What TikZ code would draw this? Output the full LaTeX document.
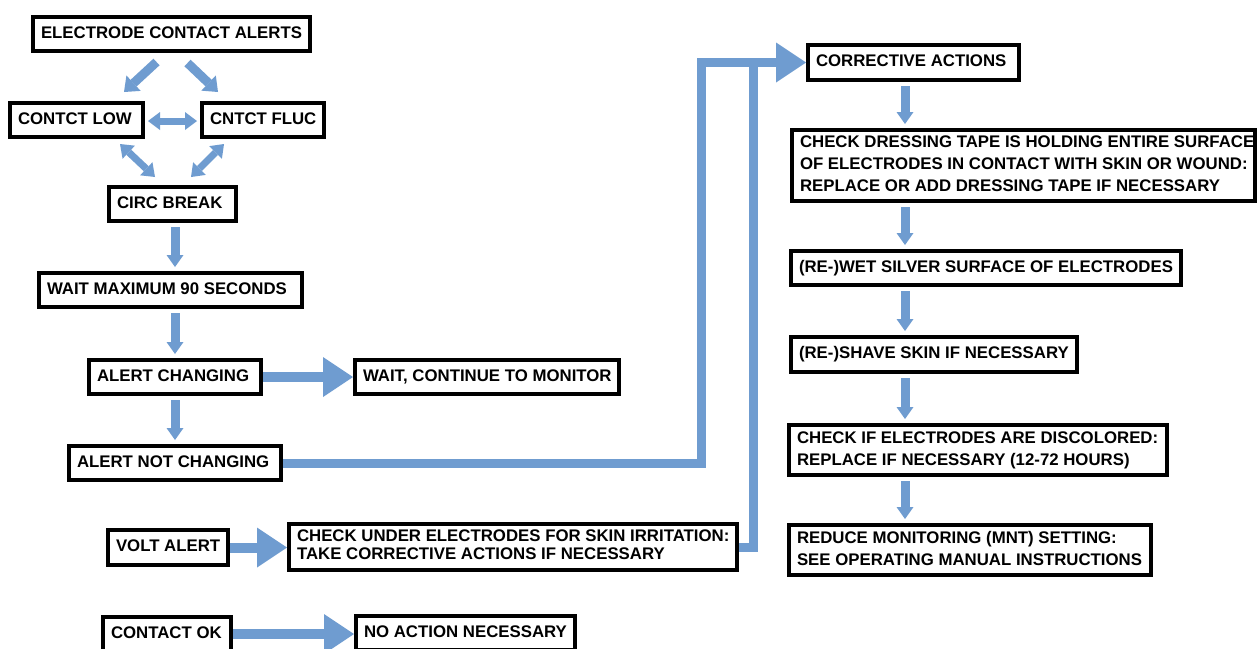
\documentclass[tikz,border=0pt]{standalone}
\usepackage{fontspec}
\setmainfont{Liberation Sans}
\usetikzlibrary{arrows.meta,calc}
\definecolor{blk}{HTML}{6F9CD0}
\newcommand\bt[2]{\makebox[#1][l]{\raisebox{-1pt}{\begin{tabular}{@{}l@{}}#2\end{tabular}}}}
\begin{document}
\begin{tikzpicture}[x=1pt,y=-1pt,
 box/.style={draw=black, line width=4pt, outer sep=2pt, fill=white, anchor=north west,
   inner xsep=8pt, inner ysep=0pt, font=\bfseries\fontsize{16.8}{22}\selectfont, text=black},
 barrow/.style={draw=blk, line width=10pt, -{Triangle[width=40pt,length=30pt,line width=0pt]}},
 darrow/.style={draw=blk, line width=9pt, -{Triangle[width=17pt,length=12pt,line width=0pt]}},
 diag/.style={draw=blk, line width=9pt, -{Triangle[width=21pt,length=13pt,line width=0pt]}},
 dbl/.style={draw=blk, line width=7pt, {Triangle[width=18pt,length=12pt,line width=0pt]}-{Triangle[width=18pt,length=12pt,line width=0pt]}},
 conn/.style={draw=blk, line width=9pt},
]
\fill[white] (0,0) rectangle (1258,648);
\useasboundingbox (0,0) rectangle (1258,648);

% left column
\node[box, minimum height=34pt] (A) at (31,15) {\bt{261pt}{ELECTRODE CONTACT ALERTS}};
\node[box, minimum height=34pt] (B) at (8,101) {\bt{117pt}{CONTCT LOW}};
\node[box, minimum height=34pt] (C) at (200,101) {\bt{106pt}{CNTCT FLUC}};
\node[box, minimum height=34pt] (D) at (107,185) {\bt{111pt}{CIRC BREAK}};
\node[box, minimum height=34pt] (E) at (37,271) {\bt{247pt}{WAIT MAXIMUM 90 SECONDS}};
\node[box, minimum height=34pt] (F) at (87,358) {\bt{156pt}{ALERT CHANGING}};
\node[box, minimum height=34pt] (G) at (353,358) {\bt{248pt}{WAIT, CONTINUE TO MONITOR}};
\node[box, minimum height=34pt] (H) at (67,444) {\bt{196pt}{ALERT NOT CHANGING}};
\node[box, minimum height=35pt] (I) at (106,528) {\bt{104pt}{VOLT ALERT}};
\node[box, minimum height=46pt, font=\bfseries\fontsize{16.8}{18}\selectfont] (J) at (287,522)
  {\bt{432pt}{CHECK UNDER ELECTRODES FOR SKIN IRRITATION:\\TAKE CORRECTIVE ACTIONS IF NECESSARY}};
\node[box, minimum height=34pt] (K) at (101,615) {\bt{112pt}{CONTACT OK}};
\node[box, minimum height=34pt] (L) at (354,614) {\bt{203pt}{NO ACTION NECESSARY}};

% right column
\node[box, minimum height=35pt] (M) at (806,43) {\bt{195pt}{CORRECTIVE ACTIONS}};
\node[box, minimum height=71pt] (N) at (790,128)
  {\bt{447pt}{CHECK DRESSING TAPE IS HOLDING ENTIRE SURFACE\\OF ELECTRODES IN CONTACT WITH SKIN OR WOUND:\\REPLACE OR ADD DRESSING TAPE IF NECESSARY}};
\node[box, minimum height=34pt] (O) at (789,249) {\bt{374pt}{(RE-)WET SILVER SURFACE OF ELECTRODES}};
\node[box, minimum height=35pt] (P) at (789,335) {\bt{270pt}{(RE-)SHAVE SKIN IF NECESSARY}};
\node[box, minimum height=50pt] (Q) at (787,423)
  {\bt{362pt}{CHECK IF ELECTRODES ARE DISCOLORED:\\REPLACE IF NECESSARY (12-72 HOURS)}};
\node[box, minimum height=50pt] (R) at (787,523)
  {\bt{346pt}{REDUCE MONITORING (MNT) SETTING:\\SEE OPERATING MANUAL INSTRUCTIONS}};

\coordinate (cx) at (175,0);
\coordinate (rx) at (905,0);
\coordinate (hx) at (701,0);
\coordinate (jx) at (753,0);

% diagonal and double arrows
\draw[diag] ($(A.south)+(-15,9)$) -- ($(B.north east)+(-21,-9)$);
\draw[diag] ($(A.south)+(16,10)$) -- ($(C.north west)+(18,-9)$);
\draw[dbl] ($(B.east)+(3,1)$) -- ($(C.west)+(-3,1)$);
\draw[dbl] ($(B.south east)+(-25,5)$) -- ($(D.north west)+(48,-8)$);
\draw[dbl] ($(C.south west)+(24,5)$) -- ($(D.north east)+(-47,-8)$);

% down arrows left
\draw[darrow] ($(D.south -| cx)+(0,4)$) -- ($(E.north -| cx)+(0,-4)$);
\draw[darrow] ($(E.south -| cx)+(0,4)$) -- ($(F.north -| cx)+(0,-4)$);
\draw[darrow] ($(F.south -| cx)+(0,4)$) -- ($(H.north -| cx)+(0,-4)$);

% down arrows right
\draw[darrow] ($(M.south -| rx)+(0,4)$) -- ($(N.north -| rx)+(0,-4)$);
\draw[darrow] ($(N.south -| rx)+(0,4)$) -- ($(O.north -| rx)+(0,-4)$);
\draw[darrow] ($(O.south -| rx)+(0,4)$) -- ($(P.north -| rx)+(0,-4)$);
\draw[darrow] ($(P.south -| rx)+(0,4)$) -- ($(Q.north -| rx)+(0,-4)$);
\draw[darrow] ($(Q.south -| rx)+(0,4)$) -- ($(R.north -| rx)+(0,-4)$);

% horizontal block arrows
\draw[barrow] (F.east) -- (F.east -| G.west);
\draw[barrow] (I.east) -- (I.east -| J.west);
\draw[barrow] (K.east) -- (K.east -| L.west);

% long connectors
\draw[conn] (J.east) -| (M.west -| jx);
\draw[conn, -{Triangle[width=40pt,length=30pt,line width=0pt]}] (H.east) -| (M.west -| hx) -- (M.west);
\end{tikzpicture}
\end{document}
